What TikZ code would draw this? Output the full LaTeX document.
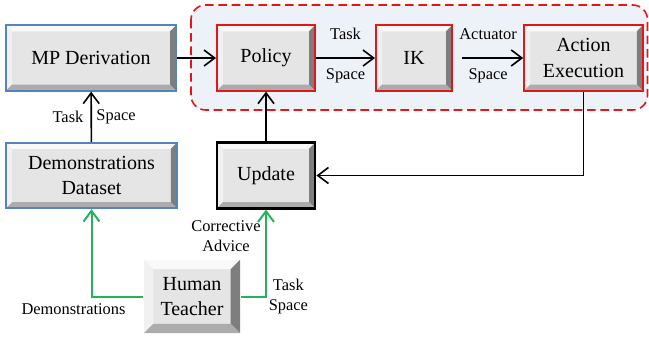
\documentclass[tikz,border=0pt]{standalone}
\usepackage{fontspec}
\setmainfont{Liberation Serif}
\usetikzlibrary{arrows.meta,positioning}
\definecolor{boxgray}{RGB}{229,229,229}
\definecolor{mpblue}{RGB}{84,130,196}
\definecolor{loopred}{RGB}{228,22,22}
\definecolor{panelblue}{RGB}{237,241,248}
\definecolor{teachgreen}{RGB}{36,178,90}

\tikzset{
  bevel/.style={fill=boxgray, path picture={
    \path (path picture bounding box.north west) coordinate (bnw)
          (path picture bounding box.north east) coordinate (bne)
          (path picture bounding box.south west) coordinate (bsw)
          (path picture bounding box.south east) coordinate (bse);
    \fill[white!75!boxgray] (bnw) -- (bne) -- ([shift={(-#1,-#1)}]bne) -- ([shift={(#1,-#1)}]bnw) -- cycle;
    \fill[white!45!boxgray] (bnw) -- ([shift={(#1,-#1)}]bnw) -- ([shift={(#1,#1)}]bsw) -- (bsw) -- cycle;
    \fill[black!45!boxgray] (bne) -- (bse) -- ([shift={(-#1,#1)}]bse) -- ([shift={(-#1,-#1)}]bne) -- cycle;
    \fill[black!25!boxgray] (bsw) -- (bse) -- ([shift={(-#1,#1)}]bse) -- ([shift={(#1,#1)}]bsw) -- cycle;
  }},
  bevel/.default=4.5pt,
  box/.style={bevel, draw=#1, line width=1.5pt, minimum height=49pt, inner sep=2pt,
    align=center, font=\fontsize{15}{18.8}\selectfont},
  lbl/.style={font=\fontsize{12.3}{15}\selectfont, align=center},
  flow/.style={-{Straight Barb[length=8pt,width=12pt]}, line width=1.2pt},
  teach/.style={flow, draw=teachgreen, line width=1.5pt},
  panel/.style={draw=loopred, fill=panelblue, rounded corners=11pt, line width=1.2pt,
    dash pattern=on 6.5pt off 3.5pt}
}

\begin{document}
\begin{tikzpicture}[x=0.75pt,y=0.75pt]
\useasboundingbox (0,0) rectangle (649,-340);
% control loop
\draw[panel] (191,-5) rectangle (647.5,-110);
\node[box=mpblue, minimum width=127.5pt] (MPDerivation) at (91,-58) {MP Derivation};
\node[box=loopred, minimum width=73.5pt] (Policy) at (266,-58) {Policy};
\node[box=loopred, minimum width=57pt] (IK) at (414,-58) {IK};
\node[box=loopred, minimum width=89pt] (Action) at (583.5,-58) {Action\\Execution};
\node[box=mpblue, minimum width=128pt] (Dataset) at (91.5,-175.5) {Demonstrations\\Dataset};
\node[box=black, line width=2.2pt, minimum width=73.5pt] (Update) at (266,-175.5) {Update};
\node[box=none, bevel=7pt, minimum width=72pt, minimum height=55pt] (Teacher) at (192,-296.5) {Human\\Teacher};

\draw[flow] (MPDerivation) -- (Policy);
\draw[flow] (Policy) -- node[lbl,above=10pt] {Task} node[lbl,below=4pt] {Space} (IK);
\draw[flow,shorten <=7pt] (IK) -- node[lbl,above=10pt] {Actuator} node[lbl,below=4pt] {Space} (Action);
\draw[flow] (Dataset) -- node[lbl,left=2pt] {Task} node[lbl,right=0pt] {Space} (MPDerivation);
\draw[flow] (Update) -- (Policy);
\draw[flow] (Action) |- (Update);
% teacher input
\draw[teach] (Teacher) -| node[lbl,pos=.5,below=1pt,xshift=-13.5pt] {Demonstrations} (Dataset);
\draw[teach] (Teacher) -| node[lbl,pos=.5,right=-2pt] {Task\\Space}
  node[lbl,pos=.85,left=0pt] {Corrective\\Advice} (Update);
\end{tikzpicture}
\end{document}
